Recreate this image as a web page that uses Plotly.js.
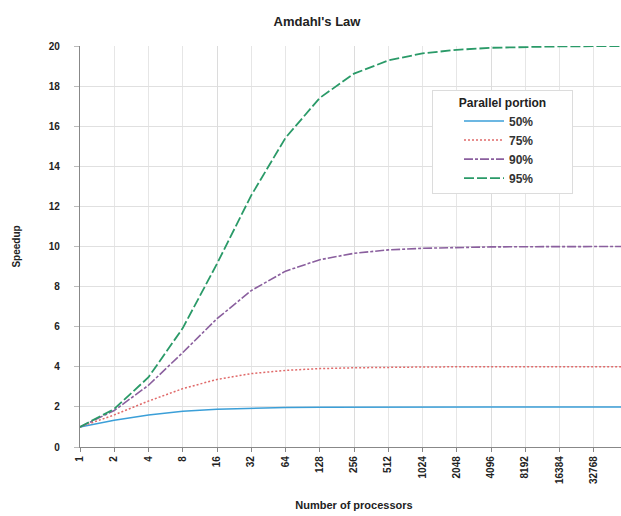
<!DOCTYPE html>
<html>
<head>
<meta charset="utf-8">
<script src="https://cdn.plot.ly/plotly-3.0.1.min.js"></script>
<style>html,body{margin:0;padding:0;overflow:hidden;background:#fff;}</style>
</head>
<body>
<div id="chart"></div>
<script>
var processors = [1, 2, 4, 8, 16, 32, 64, 128, 256, 512, 1024, 2048, 4096, 8192, 16384, 32768, 65536];
var tickLabels = ["1","2","4","8","16","32","64","128","256","512","1024","2048","4096","8192","16384","32768","65536"];
var seriesNames = ["50%", "75%", "90%", "95%"];
var speedup50 = [1, 1.33, 1.6, 1.78, 1.88, 1.94, 1.97, 1.98, 1.99, 2, 2, 2, 2, 2, 2, 2, 2];
var speedup75 = [1, 1.6, 2.29, 2.91, 3.37, 3.66, 3.82, 3.91, 3.95, 3.98, 3.99, 4, 4, 4, 4, 4, 4];
var speedup90 = [1, 1.82, 3.08, 4.71, 6.4, 7.8, 8.77, 9.34, 9.66, 9.83, 9.91, 9.96, 9.98, 9.99, 10, 10, 10];
var speedup95 = [1, 1.9, 3.48, 5.93, 9.14, 12.55, 15.42, 17.41, 18.62, 19.28, 19.63, 19.81, 19.91, 19.95, 19.98, 19.99, 20];
var majorGrid = [1, 16, 256, 4096, 65536];

var styles = [
  {color: '#3b9fd8', dash: 'solid', width: 1.5},
  {color: '#e06a6a', dash: '2px,2px', width: 1.5},
  {color: '#8a5f9e', dash: '9px,2px,3px,2px', width: 1.6},
  {color: '#2a9a68', dash: '10px,3px', width: 1.8}
];
var allSeries = [speedup50, speedup75, speedup90, speedup95];

var traces = allSeries.map(function (vals, i) {
  return {
    x: processors, y: vals, type: 'scatter', mode: 'lines',
    name: seriesNames[i],
    line: {color: styles[i].color, dash: styles[i].dash, width: styles[i].width}
  };
});
traces.push({x: processors, y: speedup50, xaxis: 'x2', type: 'scatter', mode: 'lines',
  line: {width: 0}, showlegend: false, hoverinfo: 'skip', opacity: 0});

var fam = 'Liberation Sans, Arial, sans-serif';
var tickFont = {family: fam, size: 10, color: '#222', weight: 'bold'};
var pad = '\u00a0\u00a0\u00a0\u00a0\u00a0\u00a0\u00a0';

var layout = {
  width: 650, height: 516,
  margin: {l: 80, r: 22, t: 46, b: 69},
  paper_bgcolor: '#fff', plot_bgcolor: '#fff',
  title: {text: "Amdahl's Law", x: 317/650, xref: 'container', xanchor: 'center', y: 0.967, yref: 'container',
    font: {family: fam, size: 13, color: '#222', weight: 'bold'}},
  xaxis: {
    type: 'log', range: [0, Math.log10(65536)],
    tickvals: processors, ticktext: tickLabels, tickangle: -90,
    tickfont: tickFont, ticks: 'outside', ticklen: 4, tickcolor: '#888',
    showgrid: true, gridcolor: '#e6e6e6', gridwidth: 1,
    showline: true, linecolor: '#888', linewidth: 1.2, zeroline: false,
    title: {text: 'Number of processors', standoff: 18,
      font: {family: fam, size: 11, color: '#222', weight: 'bold'}}
  },
  xaxis2: {
    type: 'log', overlaying: 'x', matches: 'x', range: [0, Math.log10(65536)],
    tickvals: majorGrid, showticklabels: false, ticks: '',
    showgrid: true, gridcolor: '#dcdcdc', gridwidth: 1, showline: false, zeroline: false
  },
  yaxis: {
    range: [0, 20], dtick: 2, tick0: 0,
    tickfont: tickFont, ticks: 'outside', ticklen: 5, tickcolor: '#bbb',
    ticklabelstandoff: 12,
    showgrid: true, gridcolor: '#e0e0e0', gridwidth: 1,
    showline: true, linecolor: '#888', linewidth: 1.2, zeroline: false,
    title: {text: 'Speedup', standoff: 26,
      font: {family: fam, size: 10, color: '#222', weight: 'bold'}}
  },
  legend: {
    x: (432 - 80) / 548, y: (447 - 90) / 401, xanchor: 'left', yanchor: 'top',
    bgcolor: '#fff', bordercolor: '#dcdcdc', borderwidth: 1,
    font: {family: fam, size: 12, color: '#333', weight: 'bold'},
    title: {text: pad + 'Parallel portion' + pad, side: 'top center',
      font: {family: fam, size: 12, color: '#222', weight: 'bold'}},
    itemwidth: 40, indentation: 26
  },
  showlegend: true
};

Plotly.newPlot('chart', traces, layout, {displayModeBar: false, staticPlot: true});
</script>
</body>
</html>
